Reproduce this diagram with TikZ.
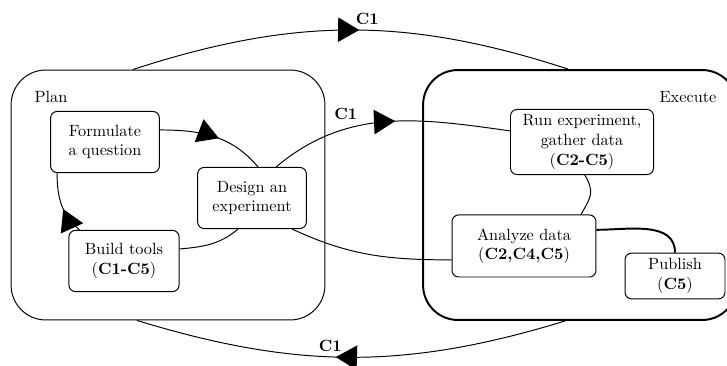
\documentclass[tikz,border=0pt]{standalone}
\usetikzlibrary{arrows.meta,decorations.markings}
\begin{document}
\begin{tikzpicture}[x=0.0216cm, y=0.0216cm,
    stage/.style={draw, semithick, rounded corners=4pt, align=center},
    phase/.style={draw, rounded corners=0.75cm, minimum width=6.78cm, minimum height=5.4cm},
    flow/.style={semithick},
    midarrow/.style={postaction={decorate}, decoration={markings,
        mark=at position #1 with {\arrow{Triangle[length=13pt,width=15pt]}}}},
    tag/.style={font=\bfseries, inner sep=3pt}]
        \useasboundingbox (0,0) rectangle (727,366);

        % Draw the two phases
        \node[phase, semithick] (plan) at (168,171) {};
        \node (planname) at (51,269) {Plan};

        \node[phase, very thick] (execute) at (580,171) {};
        \node (executename) at (688,269) {Execute};

        % Steps of planning
        \node[stage, minimum width=2.35cm, minimum height=1.32cm] (formulate) at (105,224) {Formulate\\a question};
        \node[stage, minimum width=2.35cm, minimum height=1.32cm] (design) at (252,168) {Design an\\experiment};
        \node[stage, minimum width=2.38cm, minimum height=1.32cm] (build) at (124,105) {Build tools\\(\textbf{C1-C5})};

        % Steps of execution
        \node[stage, minimum width=3.09cm, minimum height=1.32cm] (run) at (582,224) {Run experiment,\\gather data\\(\textbf{C2-C5})};
        \node[stage, minimum width=3.11cm, minimum height=1.34cm] (analyze) at (524,120) {Analyze data\\(\textbf{C2,C4,C5})};
        \node[stage, minimum width=2.16cm, minimum height=0.97cm] (publish) at (675,90) {Publish\\(\textbf{C5})};

        % Planning cycle
        \draw[flow, midarrow=0.55] ([yshift=0.26cm]formulate.east) to[out=0, in=130] ([xshift=0.13cm]design.north);
        \draw[flow] ([xshift=-0.3cm]design.south) to[out=-140, in=5] ([yshift=0.26cm]build.east);
        \draw[flow, midarrow=0.42] ([xshift=0.24cm]build.north west) to[out=140, in=-90] ([xshift=0.15cm]formulate.south west);

        % Design to execution and back
        \draw[flow, midarrow=0.53] ([xshift=0.52cm]design.north) to[out=40, in=172] node[tag, pos=0.4, above left] {C1} ([yshift=0.24cm]run.west);
        \draw[flow] ([xshift=-0.32cm]design.south east) to[out=-25, in=180] ([yshift=-0.3cm]analyze.west);

        % Within execution
        \draw[flow] ([xshift=0.06cm]run.south) to[out=-60, in=60, looseness=1.3] ([xshift=1.23cm]analyze.north);
        \draw[very thick] ([yshift=0.35cm]analyze.east) to[out=0, in=90] (publish.north);

        % Outer loop between phases
        \draw[flow, midarrow=0.52] ([xshift=-0.76cm]plan.north) to[out=18, in=162] node[tag, pos=0.5, above right] {C1} ([xshift=-0.26cm]execute.north);
        \draw[flow, midarrow=0.535] ([xshift=-0.32cm]execute.south) to[out=-163, in=-17] node[tag, pos=0.51, above left] {C1} ([xshift=-0.67cm]plan.south);
    \end{tikzpicture}
\end{document}
